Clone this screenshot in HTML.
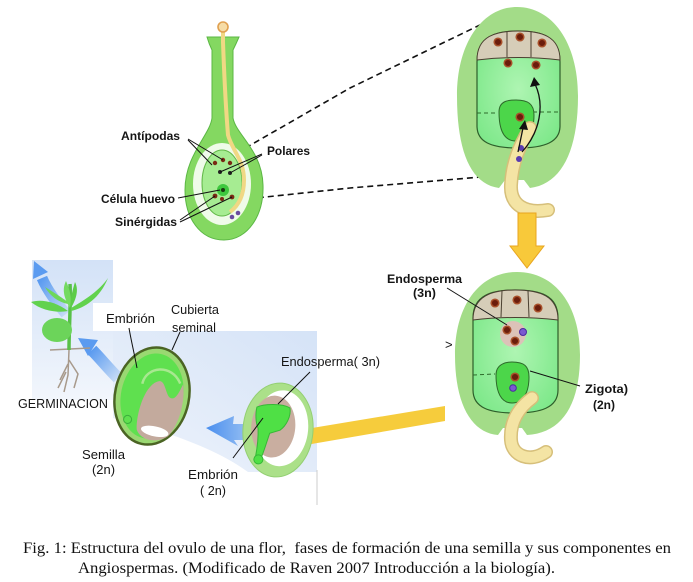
<!DOCTYPE html>
<html><head><meta charset="utf-8">
<style>
html,body{margin:0;padding:0;background:#fff;}
svg{display:block;}
.l{font-family:"Liberation Sans",Arial,sans-serif;font-size:13px;fill:#151515;}
.b{font-weight:bold;font-size:11.5px;}
.cap{font-family:"Liberation Serif","Times New Roman",serif;font-size:16px;fill:#111;white-space:pre;}
</style></head><body>
<svg width="693" height="582" viewBox="0 0 693 582" xmlns="http://www.w3.org/2000/svg">
<defs>
<linearGradient id="pbg" x1="0" y1="0" x2="0" y2="1"><stop offset="0" stop-color="#d3e2f7"/><stop offset="1" stop-color="#f2f6fc"/></linearGradient>
<linearGradient id="mbg" x1="1" y1="0" x2="0" y2="1"><stop offset="0" stop-color="#d5e3f7"/><stop offset="1" stop-color="#eef3fb"/></linearGradient>
<linearGradient id="ba" x1="0" y1="0" x2="1" y2="0"><stop offset="0" stop-color="#4a8eee"/><stop offset="1" stop-color="#9cc3f3"/></linearGradient>
<linearGradient id="ba2" x1="0" y1="0" x2="1" y2="1"><stop offset="0" stop-color="#5b9bf0"/><stop offset="1" stop-color="#c6dbf6"/></linearGradient>
<radialGradient id="sac" cx="0.5" cy="0.5" r="0.6"><stop offset="0" stop-color="#aef5b2"/><stop offset="1" stop-color="#7ee88a"/></radialGradient>
</defs>
<rect width="693" height="582" fill="#fff"/>

<!-- backgrounds -->
<rect x="32" y="260" width="81" height="140" fill="url(#pbg)"/>
<path d="M113,331 H317 V472 H248 C225,455 190,440 150,428 L113,418 Z" fill="url(#mbg)"/>
<rect x="93" y="303" width="77" height="28" fill="#fff"/>
<line x1="317" y1="470" x2="317" y2="505" stroke="#ccc" stroke-width="1"/>

<!-- dashed connectors -->
<polyline points="228,158 350,88 484,23" fill="none" stroke="#111" stroke-width="1.6" stroke-dasharray="6,4"/>
<polyline points="228,201 350,188 505,175" fill="none" stroke="#111" stroke-width="1.6" stroke-dasharray="6,4"/>

<!-- top-left ovule -->
<path d="M207,37 L239,37 Q236,44 233,50 L233,118 C236,135 262,150 263,185 C264,215 248,240 224,240 C200,240 185,218 185,190 C185,155 210,135 212,118 L212,50 Q209,44 207,37 Z" fill="#84d861" stroke="#5bb744" stroke-width="1"/>
<ellipse cx="222" cy="184" rx="29" ry="41" fill="#effbe9"/>
<ellipse cx="222" cy="183" rx="20" ry="33" fill="#a6ec92" stroke="#62b848" stroke-width="1"/>
<path d="M223,32 L223,42 C224,70 226,110 228,135 C232,150 244,160 244,180 C244,196 238,206 230,212" fill="none" stroke="#f0d884" stroke-width="4"/>
<circle cx="223" cy="27" r="5" fill="#f6dca6" stroke="#e0a050" stroke-width="1.6"/>
<circle cx="215" cy="163" r="2.2" fill="#7a2a14"/>
<circle cx="223" cy="160" r="2.2" fill="#7a2a14"/>
<circle cx="230" cy="163" r="2.2" fill="#7a2a14"/>
<circle cx="220" cy="172" r="2" fill="#222"/>
<circle cx="230" cy="173" r="2" fill="#222"/>
<circle cx="223" cy="190" r="6" fill="#3ec83e"/>
<circle cx="223" cy="190" r="2" fill="#1a3a10"/>
<circle cx="215" cy="196" r="2.4" fill="#7a2a14"/>
<circle cx="232" cy="197" r="2.4" fill="#7a2a14"/>
<circle cx="222" cy="199" r="2" fill="#7a2a14"/>
<circle cx="232" cy="217" r="2.3" fill="#6a4aa0"/>
<circle cx="238" cy="213" r="2.3" fill="#6a4aa0"/>
<g stroke="#111" stroke-width="1">
<line x1="188" y1="139" x2="223" y2="160"/>
<line x1="188" y1="140" x2="212" y2="165"/>
<line x1="262" y1="154" x2="220" y2="172"/>
<line x1="262" y1="155" x2="230" y2="173"/>
<line x1="178" y1="198" x2="220" y2="190"/>
<line x1="180" y1="220" x2="215" y2="196"/>
<line x1="180" y1="222" x2="232" y2="197"/>
</g>

<!-- top-right large ovule -->
<path d="M517,7 C552,7 578,42 578,96 C578,150 562,184 530,188 L524,180 L505,180 L499,188 C470,184 457,150 457,96 C457,42 483,7 517,7 Z" fill="#a3dc88"/>
<path d="M477,62 C477,36 496,31 518,31 C541,31 560,36 560,62 L560,126 C560,142 545,148 518,148 C491,148 477,142 477,126 Z" fill="url(#sac)" stroke="#2d5e2a" stroke-width="1.2"/>
<path d="M477,60 C477,36 496,31 518,31 C541,31 560,36 560,60 Q518,55 477,60 Z" fill="#d6cdb8" stroke="#4a4030" stroke-width="1"/>
<line x1="507" y1="32" x2="507" y2="57" stroke="#4a4030"/>
<line x1="531" y1="32" x2="531" y2="57" stroke="#4a4030"/>
<line x1="477" y1="113" x2="498" y2="113" stroke="#2d6a2a" stroke-dasharray="4,3"/>
<line x1="533" y1="112" x2="560" y2="112" stroke="#2d6a2a" stroke-dasharray="4,3"/>
<path d="M499,112 C499,100 510,100 516,100 C528,100 534,104 534,115 C534,132 528,141 516,141 C504,141 499,130 499,112 Z" fill="#4cd64a" stroke="#2d6a2a" stroke-width="1"/>
<g fill="#6b1d0c" stroke="#a8502a" stroke-width="1.5">
<circle cx="498" cy="42" r="3.8"/><circle cx="520" cy="37" r="3.8"/><circle cx="542" cy="43" r="3.8"/>
<circle cx="508" cy="63" r="3.8"/><circle cx="536" cy="65" r="3.8"/>
<circle cx="520" cy="117" r="3.8"/>
</g>
<path d="M530,128 C520,145 512,162 511,185 C510,205 525,214 548,210" stroke="#d6bf7a" stroke-width="14" fill="none" stroke-linecap="round"/>
<path d="M530,128 C520,145 512,162 511,185 C510,205 525,214 548,210" stroke="#f4e4a4" stroke-width="11" fill="none" stroke-linecap="round"/>
<circle cx="521" cy="148" r="3" fill="#5a3ab0"/>
<circle cx="519" cy="159" r="3" fill="#5a3ab0"/>
<path d="M522,152 C540,132 545,105 535,84" stroke="#111" stroke-width="1.3" fill="none"/>
<polygon points="534,77 530,87 540,85" fill="#111"/>
<path d="M518,152 L523,128" stroke="#111" stroke-width="1.3"/>
<polygon points="525,120 519,129 528,130" fill="#111"/>

<!-- yellow down arrow -->
<polygon points="518,213 536,213 536,246 544,246 527,268 510,246 518,246" fill="#f8c93a" stroke="#e9a51f" stroke-width="1"/>

<!-- yellow band -->
<polygon points="300,430 445,406 445,421 300,446" fill="#f6cc3c"/>

<!-- bottom-right ovule -->
<path d="M517,272 C555,272 580,305 580,355 C580,405 562,433 527,435 L522,428 L503,428 L498,435 C472,433 455,405 455,355 C455,305 480,272 517,272 Z" fill="#a3dc88"/>
<path d="M473,318 C473,295 492,290 515,290 C540,290 558,295 558,318 L558,390 C558,408 540,413 515,413 C490,413 473,408 473,390 Z" fill="url(#sac)" stroke="#2d5e2a" stroke-width="1.2"/>
<path d="M473,320 C473,296 492,290 515,290 C540,290 558,296 558,320 Q515,315 473,320 Z" fill="#d6cdb8" stroke="#4a4030" stroke-width="1"/>
<line x1="502" y1="291" x2="501" y2="317" stroke="#4a4030"/>
<line x1="528" y1="291" x2="529" y2="317" stroke="#4a4030"/>
<circle cx="513" cy="334" r="13" fill="#dcc2b8"/>
<line x1="473" y1="375" x2="495" y2="374" stroke="#2d6a2a" stroke-dasharray="4,3"/>
<path d="M496,375 C496,364 506,362 512,362 C524,362 529,366 529,377 C529,393 523,403 512,403 C501,403 496,392 496,375 Z" fill="#4cd64a" stroke="#2d6a2a" stroke-width="1"/>
<g fill="#6b1d0c" stroke="#a8502a" stroke-width="1.5">
<circle cx="495" cy="303" r="3.8"/><circle cx="517" cy="300" r="3.8"/><circle cx="538" cy="308" r="3.8"/>
<circle cx="507" cy="330" r="3.8"/><circle cx="515" cy="341" r="3.8"/>
<circle cx="515" cy="377" r="3.8"/>
</g>
<circle cx="523" cy="332" r="3.5" fill="#7a5ad0" stroke="#4a2aa0"/>
<circle cx="513" cy="388" r="3.3" fill="#7a5ad0" stroke="#4a2aa0"/>
<path d="M532,398 C516,410 510,424 511,440 C512,456 530,463 546,452" stroke="#d6bf7a" stroke-width="14" fill="none" stroke-linecap="round"/>
<path d="M532,398 C516,410 510,424 511,440 C512,456 530,463 546,452" stroke="#f4e4a4" stroke-width="11" fill="none" stroke-linecap="round"/>
<text class="l" x="445" y="349" font-size="9">&gt;</text>

<!-- blue arrows -->
<path d="M118,378 C108,368 100,358 92,350" stroke="url(#ba2)" stroke-width="12" fill="none"/>
<polygon points="78,338 98,340 88,356" fill="#5b9bf0"/>
<path d="M66,314 C58,304 48,292 42,278" stroke="url(#ba2)" stroke-width="11" fill="none"/>
<polygon points="34,261 48,272 33,279" fill="#5b9bf0"/>
<polygon points="206,428 234,416 233,424 252,424 252,440 234,440 238,446" fill="url(#ba)"/>

<!-- plant -->
<path d="M69,350 L68,375 L64,392 M68,364 L60,380 M69,360 L78,374 L74,388 M50,350 L90,348 M66,372 L58,388" stroke="#a89a8c" stroke-width="1.5" fill="none"/>
<path d="M69,350 C69,330 71,300 70,284" stroke="#58c048" stroke-width="3.5" fill="none"/>
<ellipse cx="57" cy="330" rx="15" ry="12" fill="#6cd45a"/>
<path d="M68,311 C55,301 40,299 31,302 C42,311 58,313 68,311 Z" fill="#62d24e"/>
<path d="M68,302 C58,295 50,290 45,287 C50,296 58,302 68,304 Z" fill="#6ed85a"/>
<path d="M71,308 C85,300 100,290 108,278 C100,298 85,308 71,311 Z" fill="#62d24e"/>
<path d="M70,308 C62,295 63,287 66,281 C70,290 72,298 70,308 Z" fill="#74da60"/>
<path d="M71,308 C78,296 78,288 75,282 C72,292 70,300 71,308 Z" fill="#5ccc48"/>

<!-- middle seed (Semilla) -->
<g transform="rotate(12 152 396)">
<ellipse cx="152" cy="396" rx="37" ry="49" fill="#9ad872" stroke="#4b6424" stroke-width="2.5"/>
<ellipse cx="152" cy="396" rx="31" ry="43" fill="#5fe04f"/>
<path d="M144,432 C140,415 143,385 156,380 C162,378 165,392 170,394 C176,396 178,386 180,378 C186,395 184,420 176,432 C166,442 150,442 144,432 Z" fill="#c3aa9d"/>
<path d="M140,386 C140,368 165,360 177,378" stroke="#a8e890" stroke-width="2.5" fill="none"/>
<ellipse cx="162" cy="430" rx="14" ry="5" fill="#fff"/>
<circle cx="133" cy="424" r="4" fill="#5fe04f" stroke="#3cae3c"/>
</g>

<!-- right seed -->
<g transform="rotate(5 278 430)">
<ellipse cx="278" cy="430" rx="35" ry="47" fill="#abe089" stroke="#93cf72" stroke-width="1"/>
<ellipse cx="281" cy="428" rx="27" ry="38" fill="#fff"/>
<ellipse cx="273" cy="427" rx="22" ry="31" fill="#c9aea0"/>
<path d="M255,409 C262,405 280,403 288,407 C290,415 286,425 280,430 L270,434 C268,442 266,452 264,458 L258,458 C259,448 259,438 258,430 C255,425 254,415 255,409 Z" fill="#4fe045" stroke="#36b836"/>
<circle cx="261" cy="461" r="4.5" fill="#4fe045" stroke="#36b836"/>
</g>

<!-- pointer lines bottom -->
<g stroke="#111" stroke-width="1" fill="none">
<path d="M129,328 C131,340 134,352 137,368"/>
<line x1="180" y1="332" x2="172" y2="350"/>
<line x1="310" y1="372" x2="278" y2="404"/>
<line x1="233" y1="458" x2="263" y2="418"/>
<line x1="447" y1="288" x2="507" y2="325"/>
<line x1="530" y1="371" x2="580" y2="386"/>
</g>

<!-- labels -->
<text class="l b" x="121" y="140" textLength="59" lengthAdjust="spacingAndGlyphs">Antípodas</text>
<text class="l b" x="267" y="155" textLength="43" lengthAdjust="spacingAndGlyphs">Polares</text>
<text class="l b" x="101" y="203" textLength="74" lengthAdjust="spacingAndGlyphs">Célula huevo</text>
<text class="l b" x="115" y="226" textLength="62" lengthAdjust="spacingAndGlyphs">Sinérgidas</text>
<text class="l" x="106" y="323" textLength="49" lengthAdjust="spacingAndGlyphs">Embrión</text>
<text class="l" x="171" y="314" textLength="48" lengthAdjust="spacingAndGlyphs">Cubierta</text>
<text class="l" x="172" y="332" textLength="44" lengthAdjust="spacingAndGlyphs">seminal</text>
<text class="l" x="18" y="408" textLength="90" lengthAdjust="spacingAndGlyphs">GERMINACION</text>
<text class="l" x="82" y="459" textLength="43" lengthAdjust="spacingAndGlyphs">Semilla</text>
<text class="l" x="92" y="474" textLength="23" lengthAdjust="spacingAndGlyphs">(2n)</text>
<text class="l" x="188" y="479" textLength="50" lengthAdjust="spacingAndGlyphs">Embrión</text>
<text class="l" x="200" y="495" textLength="26" lengthAdjust="spacingAndGlyphs" style="white-space:pre">( 2n)</text>
<text class="l" x="281" y="366" textLength="99" lengthAdjust="spacingAndGlyphs" style="white-space:pre">Endosperma( 3n)</text>
<text class="l b" x="387" y="283" textLength="75" lengthAdjust="spacingAndGlyphs">Endosperma</text>
<text class="l b" x="413" y="297" textLength="23" lengthAdjust="spacingAndGlyphs">(3n)</text>
<text class="l b" x="585" y="393" textLength="43" lengthAdjust="spacingAndGlyphs">Zigota)</text>
<text class="l b" x="593" y="409" textLength="22" lengthAdjust="spacingAndGlyphs">(2n)</text>

<!-- caption -->
<text class="cap" x="23" y="553" textLength="648" lengthAdjust="spacingAndGlyphs">Fig. 1: Estructura del ovulo de una flor,  fases de formación de una semilla y sus componentes en</text>
<text class="cap" x="78" y="573" textLength="477" lengthAdjust="spacingAndGlyphs">Angiospermas. (Modificado de Raven 2007 Introducción a la biología).</text>
</svg>
</body></html>
